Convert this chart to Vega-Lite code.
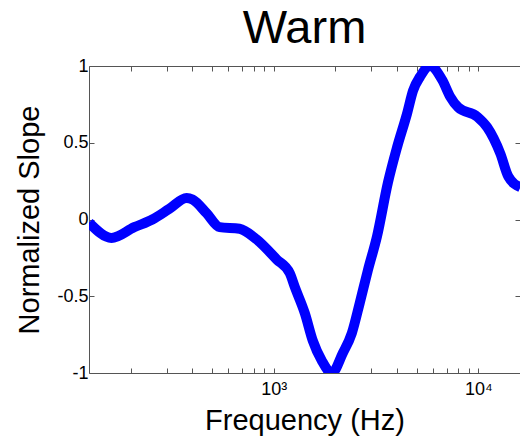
{
  "$schema": "https://vega.github.io/schema/vega-lite/v6.json",
  "autosize": "none",
  "width": 431,
  "height": 307,
  "padding": {"left": 89, "top": 66, "right": 0, "bottom": 73},
  "background": "white",
  "config": {
    "view": {"stroke": null},
    "font": "Liberation Sans",
    "axis": {
      "domainColor": "#555555",
      "tickColor": "#555555",
      "grid": false,
      "labelColor": "black",
      "titleColor": "black",
      "labelFont": "Liberation Sans",
      "titleFont": "Liberation Sans",
      "titleFontWeight": "normal",
      "labelFontSize": 18,
      "titleFontSize": 29
    }
  },
  "title": {
    "text": "Warm",
    "font": "Liberation Sans",
    "fontSize": 47,
    "fontWeight": "normal",
    "color": "black",
    "anchor": "middle",
    "baseline": "alphabetic",
    "offset": -33
  },
  "data": {
    "values": [
      {"f": 125, "v": -0.02},
      {"f": 161, "v": -0.12},
      {"f": 208, "v": -0.05},
      {"f": 255, "v": 0.0},
      {"f": 309, "v": 0.07},
      {"f": 375, "v": 0.14},
      {"f": 401, "v": 0.13},
      {"f": 470, "v": 0.04},
      {"f": 544, "v": -0.05},
      {"f": 681, "v": -0.06},
      {"f": 825, "v": -0.13},
      {"f": 1034, "v": -0.26},
      {"f": 1198, "v": -0.35},
      {"f": 1268, "v": -0.44},
      {"f": 1419, "v": -0.61},
      {"f": 1553, "v": -0.79},
      {"f": 1719, "v": -0.92},
      {"f": 1924, "v": -1.0},
      {"f": 2178, "v": -0.87},
      {"f": 2410, "v": -0.74},
      {"f": 2638, "v": -0.54},
      {"f": 2888, "v": -0.33},
      {"f": 3199, "v": -0.11},
      {"f": 3617, "v": 0.24},
      {"f": 4008, "v": 0.47},
      {"f": 4486, "v": 0.69},
      {"f": 4800, "v": 0.84},
      {"f": 5193, "v": 0.93},
      {"f": 5813, "v": 1.0},
      {"f": 6659, "v": 0.91},
      {"f": 7292, "v": 0.80},
      {"f": 7985, "v": 0.73},
      {"f": 9886, "v": 0.67},
      {"f": 11070, "v": 0.60},
      {"f": 12820, "v": 0.43},
      {"f": 14030, "v": 0.28},
      {"f": 16070, "v": 0.21}
    ]
  },
  "layer": [
    {
      "mark": {"type": "line", "strokeOpacity": 0},
      "encoding": {
        "x": {
          "field": "f", "type": "quantitative",
          "scale": {"type": "log", "domain": [125, 16000]},
          "axis": {"orient": "top", "values": [200,300,400,500,600,700,800,900,1000,2000,3000,4000,5000,6000,7000,8000,9000,10000], "labels": false, "tickSize": -5, "title": null}
        },
        "y": {
          "field": "v", "type": "quantitative",
          "scale": {"domain": [-1, 1]},
          "axis": {"orient": "right", "values": [-1,-0.5,0,0.5,1], "labels": false, "tickSize": -5, "title": null}
        }
      }
    },
    {
      "mark": {"type": "line", "color": "#0000ff", "strokeWidth": 10, "clip": true, "interpolate": "monotone", "strokeJoin": "round"},
      "encoding": {
        "x": {
          "field": "f", "type": "quantitative",
          "scale": {"type": "log", "domain": [125, 16000]},
          "axis": {"orient": "bottom", "values": [200,300,400,500,600,700,800,900,1000,2000,3000,4000,5000,6000,7000,8000,9000,10000], "labelExpr": "datum.value == 1000 ? '10³' : (datum.value == 10000 ? '10⁴' : '')", "tickSize": -5, "labelPadding": 12, "title": "Frequency (Hz)", "titlePadding": 8}
        },
        "y": {
          "field": "v", "type": "quantitative",
          "scale": {"domain": [-1, 1]},
          "axis": {"orient": "left", "values": [-1,-0.5,0,0.5,1], "labelExpr": "datum.value + ''", "tickSize": -5, "labelPadding": 6, "title": "Normalized Slope", "titlePadding": 12}
        }
      }
    }
  ]
}
